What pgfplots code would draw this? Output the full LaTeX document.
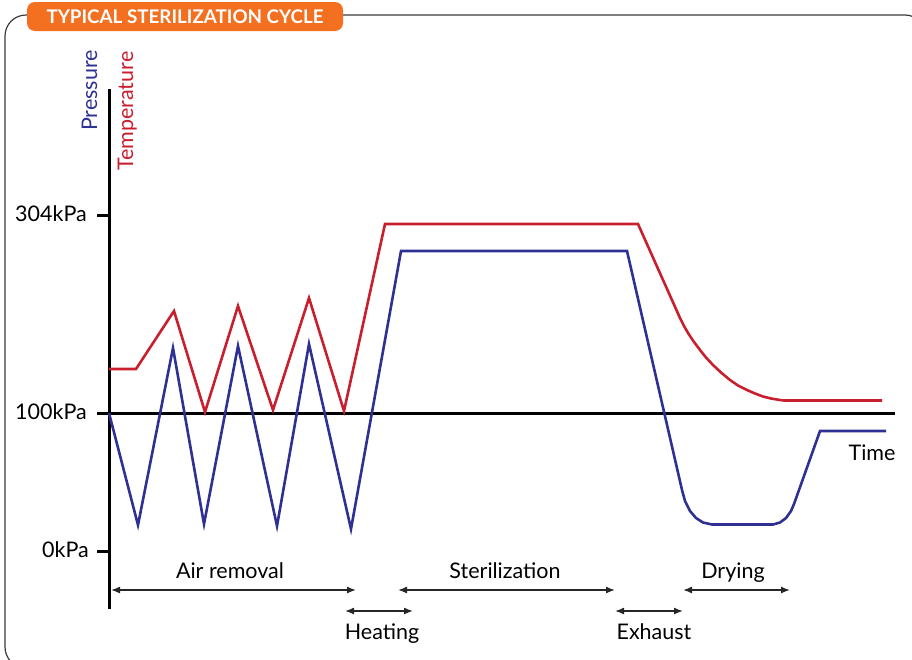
\documentclass[border=0pt]{standalone}
\usepackage{pgfplots}
\pgfplotsset{compat=1.18}
\usepackage{fontspec}
\setmainfont{Lato}
\usetikzlibrary{arrows.meta}
\definecolor{pblue}{RGB}{46,49,146}
\definecolor{tred}{RGB}{200,30,45}
\definecolor{tab}{RGB}{243,112,33}
\definecolor{frame}{RGB}{60,60,60}
\newcommand{\lbl}{\fontsize{21.5}{24}\selectfont}
\begin{document}
\begin{tikzpicture}
\begin{axis}[
  scale only axis, width=912pt, height=659pt,
  xmin=0, xmax=912, ymin=0, ymax=659, y dir=reverse,
  axis lines=none, clip=true,
]
\coordinate (bl) at (rel axis cs:0,0);
\coordinate (tr) at (rel axis cs:1,1);
% frame
\draw[frame, line width=1.2pt, rounded corners=21pt] (axis cs:5,15) rectangle (axis cs:926,668);
% tab
\fill[tab, rounded corners=8pt] (axis cs:27,2) rectangle (axis cs:343,31);
\node[text=white, font=\fontsize{18.8}{20}\selectfont\bfseries] at (axis cs:185,17) {TYPICAL STERILIZATION CYCLE};
% axis lines
\draw[black, line width=3pt] (axis cs:109,89) -- (axis cs:109,609);
\draw[black, line width=3pt] (axis cs:97,413) -- (axis cs:895,413);
\draw[black, line width=3pt] (axis cs:97,215) -- (axis cs:109,215);
\draw[black, line width=3pt] (axis cs:97,551.5) -- (axis cs:109,551.5);
% tick labels
\node[anchor=base east, font=\lbl, inner sep=0pt] at (axis cs:87,221) {304kPa};
\node[anchor=base east, font=\lbl, inner sep=0pt] at (axis cs:87,419) {100kPa};
\node[anchor=base east, font=\lbl, inner sep=0pt] at (axis cs:89,557) {0kPa};
% axis titles
\node[anchor=base west, rotate=90, text=pblue, font=\lbl, inner sep=0pt] at (axis cs:97,131) {Pressure};
\node[anchor=base west, rotate=90, text=tred, font=\lbl, inner sep=0pt] at (axis cs:133,171) {Temperature};
\node[anchor=base, font=\lbl] at (axis cs:872,460) {Time};
% temperature
\addplot[tred, line width=2.6pt, line join=miter] coordinates {
(109,369) (136,369) (174,311) (205,412) (238,306) (273,410) (309,298) (344,411) (385,224)
(638,224) (680,318) (684,326) (688,333) (694,342) (700,350) (706,357.5) (713,365) (721,372.5)
(730,380) (738,385.5) (747,390) (755,393.5) (763,396.5) (771,398.5) (780,400) (784,400.5) (882,400.5)};
% pressure
\addplot[pblue, line width=2.6pt, line join=miter] coordinates {
(109,413) (138,525) (173,348) (204,524) (238,346) (277,526) (309,344) (351,529) (401,251)
(627,251) (682,490) (685,501) (690,511) (696,518) (703,522.5) (712,524.5) (773,524.5) (780,522.5) (786,518) (791,511) (794,504)
(820,431) (886,431)};
% phases
\tikzset{dbl/.style={{Latex[length=9pt,width=7pt]}-{Latex[length=9pt,width=7pt]}, line width=1.4pt, black!85}}
\draw[dbl] (axis cs:111,590) -- (axis cs:356,590);
\draw[dbl] (axis cs:398,590) -- (axis cs:615,590);
\draw[dbl] (axis cs:683,590) -- (axis cs:790,590);
\draw[dbl] (axis cs:345,611) -- (axis cs:413,611);
\draw[dbl] (axis cs:615,611) -- (axis cs:683,611);
\node[anchor=base, font=\lbl] at (axis cs:230,578) {Air removal};
\node[anchor=base, font=\lbl] at (axis cs:505,578) {Sterilization};
\node[anchor=base, font=\lbl] at (axis cs:733,578) {Drying};
\node[anchor=base, font=\lbl] at (axis cs:382,639) {Heating};
\node[anchor=base, font=\lbl] at (axis cs:654,639) {Exhaust};
\end{axis}
\pgfresetboundingbox
\path (bl) rectangle (tr);
\end{tikzpicture}
\end{document}
